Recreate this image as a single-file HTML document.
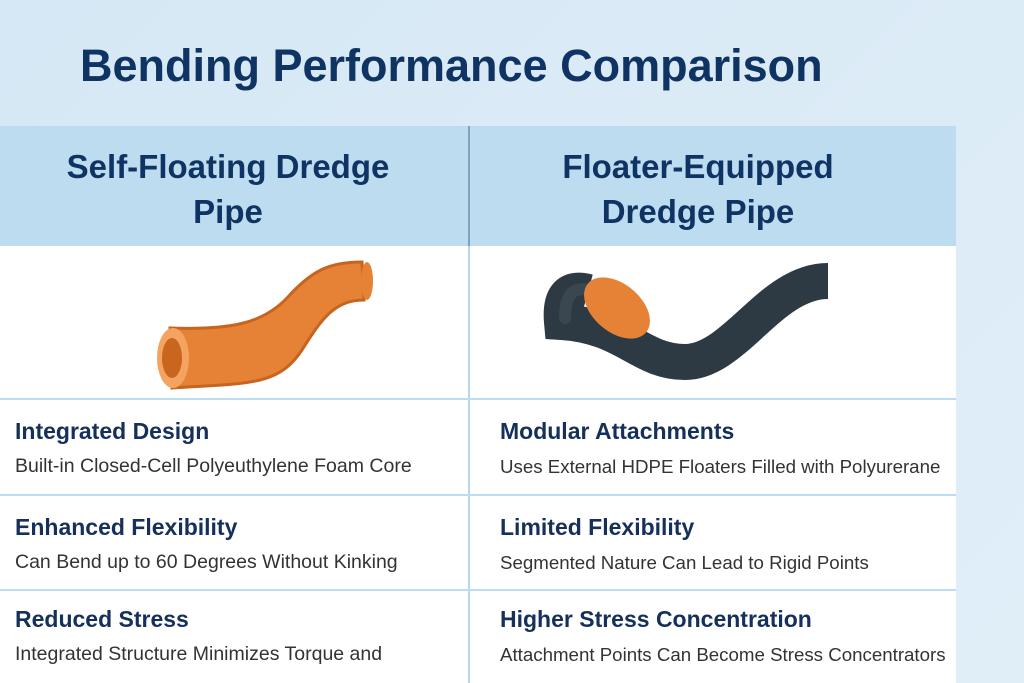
<!DOCTYPE html>
<html><head><style>
body{margin:0;width:1024px;height:683px;overflow:hidden;background:linear-gradient(135deg,#d6e8f5,#e0eef8);font-family:"Liberation Sans",sans-serif;position:relative}
.t{position:absolute;left:80px;top:40px;font-size:45px;font-weight:bold;color:#0f3463;letter-spacing:0}
.tbl{position:absolute;left:0;top:126px;width:956px;height:557px;background:#fff}
.hd{position:absolute;top:0;height:120px;background:#bddcef;color:#0f3463;font-weight:bold;font-size:33px;text-align:center;line-height:45px;padding-top:18px;box-sizing:border-box}
.vl{position:absolute;left:468px;top:0;width:2px;height:557px;background:#b8d6ea}
.vl2{position:absolute;left:468px;top:0;width:2px;height:120px;background:#7fa3bf}
.hl{position:absolute;left:0;width:956px;height:2px;background:#bcdcef}
.c{position:absolute;color:#13305a;white-space:nowrap}
.c b{display:block;font-size:23px;color:#15305a}
.c span{display:block;font-size:19.5px;color:#333;margin-top:10px}
.r span{font-size:18.7px;margin-top:11px}
</style></head><body>
<div class="t">Bending Performance Comparison</div>
<div class="tbl">
<div class="hd" style="left:0;width:468px;padding-right:12px">Self-Floating Dredge<br>Pipe</div>
<div class="hd" style="left:470px;width:486px;padding-right:30px">Floater-Equipped<br>Dredge Pipe</div>
<div class="vl"></div><div class="vl2"></div>
<div class="hl" style="top:272px"></div>
<div class="hl" style="top:368px"></div>
<div class="hl" style="top:463px"></div>
</div>
<svg style="position:absolute;left:0;top:0" width="1024" height="683">
<path d="M170,328 C230,330 262,324 287,298 C312,270 330,262 362,262 L364,300 C335,300 322,318 302,350 C278,386 250,383 172,388 Z" fill="#e58235" stroke="#c7641f" stroke-width="3"/>
<ellipse cx="367" cy="281" rx="6" ry="19" fill="#e58235"/>
<ellipse cx="173" cy="358" rx="16" ry="30" fill="#f4a460"/>
<ellipse cx="172" cy="358" rx="10" ry="20" fill="#c8651f"/>
<path d="M588,292 C566,286 560,300 562,322 C625,326 640,362 685,362 C735,362 770,281 828,281" fill="none" stroke="#2d3a44" stroke-width="36"/>
<path d="M590,290 C572,286 565,296 565,318" fill="none" stroke="#3a4650" stroke-width="12" stroke-linecap="round"/>
<ellipse cx="617" cy="308" rx="38" ry="24" transform="rotate(40 617 308)" fill="#e58235"/>
</svg>
<div class="c" style="left:15px;top:418px"><b>Integrated Design</b><span>Built-in Closed-Cell Polyeuthylene Foam Core</span></div>
<div class="c r" style="left:500px;top:418px"><b>Modular Attachments</b><span>Uses External HDPE Floaters Filled with Polyurerane</span></div>
<div class="c" style="left:15px;top:514px"><b>Enhanced Flexibility</b><span>Can Bend up to 60 Degrees Without Kinking</span></div>
<div class="c r" style="left:500px;top:514px"><b>Limited Flexibility</b><span>Segmented Nature Can Lead to Rigid Points</span></div>
<div class="c" style="left:15px;top:606px"><b>Reduced Stress</b><span>Integrated Structure Minimizes Torque and</span></div>
<div class="c r" style="left:500px;top:606px"><b>Higher Stress Concentration</b><span>Attachment Points Can Become Stress Concentrators</span></div>
</body></html>
